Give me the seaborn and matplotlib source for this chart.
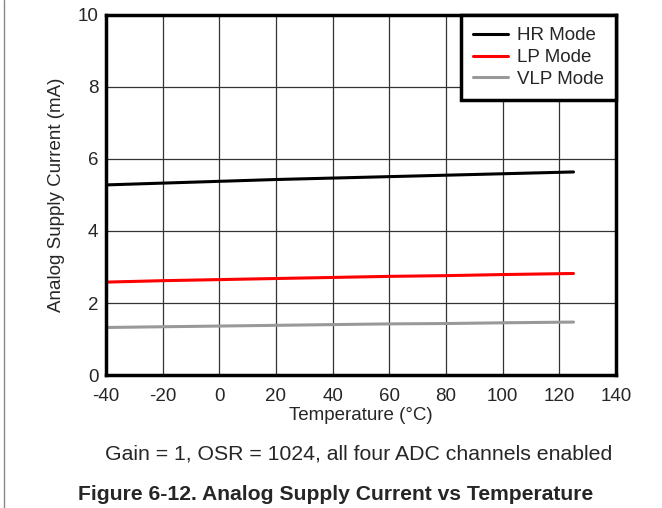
#!/usr/bin/env python3
"""
Analog supply current vs temperature
"""

import pandas as pd
import matplotlib.pyplot as plt
import seaborn as sns
from matplotlib.lines import Line2D

# Data
temperature = [-40, -20, 0, 20, 40, 60, 80, 100, 125]
hr_mode = [5.28, 5.33, 5.38, 5.43, 5.47, 5.51, 5.55, 5.59, 5.64]
lp_mode = [2.58, 2.62, 2.65, 2.68, 2.71, 2.74, 2.76, 2.79, 2.82]
vlp_mode = [1.32, 1.34, 1.36, 1.38, 1.40, 1.42, 1.43, 1.45, 1.47]

modes = ['HR Mode', 'LP Mode', 'VLP Mode']
colors = ['#000000', '#ff0000', '#999999']
x_ticks = [-40, -20, 0, 20, 40, 60, 80, 100, 120, 140]
y_ticks = [0, 2, 4, 6, 8, 10]


def generate_visuals():
    sns.set_style("white")
    plt.rcParams['font.family'] = ['Liberation Sans', 'DejaVu Sans']
    plt.rcParams['axes.unicode_minus'] = False

    df = pd.DataFrame({
        'Temperature': temperature * 3,
        'Current': hr_mode + lp_mode + vlp_mode,
        'Mode': [m for m in modes for _ in temperature],
    })

    fig = plt.figure(figsize=(6.62, 5.08), dpi=100)
    ax = fig.add_axes([0.1601, 0.2618, 0.7704, 0.7087])

    sns.lineplot(data=df, x='Temperature', y='Current', hue='Mode',
                 palette=dict(zip(modes, colors)), linewidth=2.2, ax=ax,
                 legend=False)

    ax.set_xlim(-40, 140)
    ax.set_ylim(0, 10)
    ax.set_xticks(x_ticks)
    ax.set_yticks(y_ticks)
    ax.tick_params(axis='x', length=0, labelsize=13.5, pad=9)
    ax.tick_params(axis='y', length=0, labelsize=13.5, pad=5.5)
    ax.grid(True, color='#333333', linewidth=0.9)
    for s in ax.spines.values():
        s.set_visible(True)
        s.set_color('black')
        s.set_linewidth(2.5)

    ax.set_xlabel('Temperature (°C)', fontsize=13.5, labelpad=2)
    ax.set_ylabel('Analog Supply Current (mA)', fontsize=13.5, labelpad=9)

    handles = [Line2D([0], [0], color=c, linewidth=2.2) for c in colors]
    leg = ax.legend(handles, modes, loc='upper right', fontsize=13.5,
                    frameon=True, fancybox=False, borderaxespad=0,
                    handlelength=1.85, handletextpad=0.5, labelspacing=0.25,
                    borderpad=0.65)
    leg.get_frame().set_edgecolor('black')
    leg.get_frame().set_linewidth(2.5)
    leg.get_frame().set_alpha(1)

    fig.text(0.5423, 0.0945, 'Gain = 1, OSR = 1024, all four ADC channels enabled',
             ha='center', va='baseline', fontsize=15.3)
    fig.text(0.5076, 0.0157, 'Figure 6-12. Analog Supply Current vs Temperature',
             ha='center', va='baseline', fontsize=15.2, fontweight='bold')

    # page border line on the left
    fig.add_artist(Line2D([0.006, 0.006], [0, 1], color='#888888',
                          linewidth=1, transform=fig.transFigure))

    fig.savefig('out.png', dpi=100)
    plt.close(fig)


if __name__ == "__main__":
    generate_visuals()
